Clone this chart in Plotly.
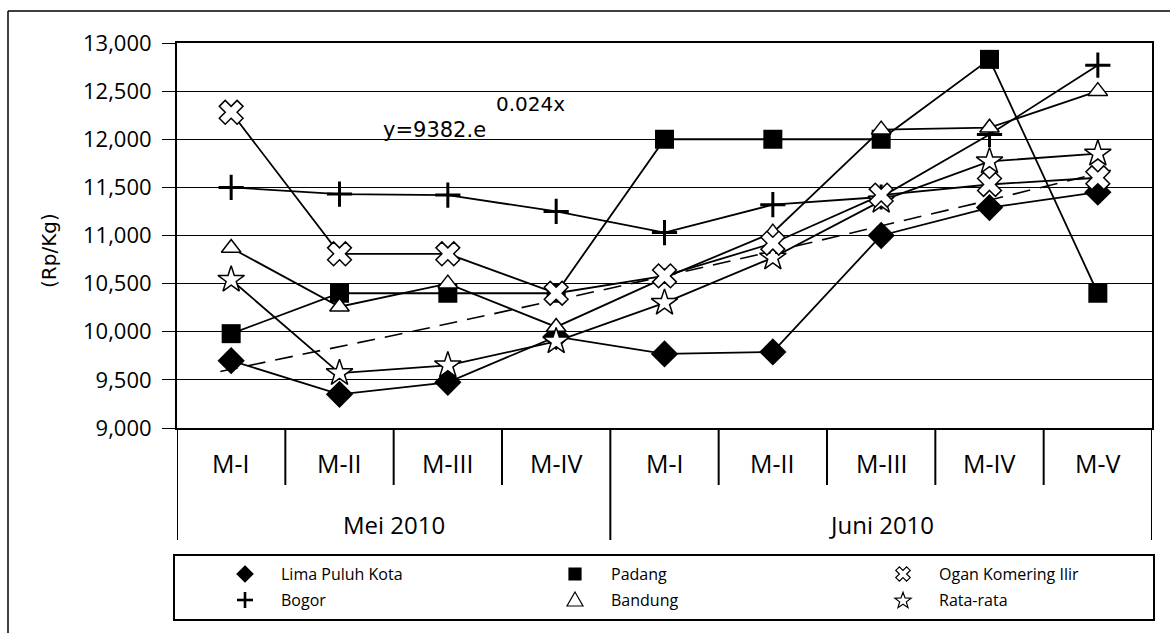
import numpy as np
import plotly.graph_objects as go

# ---- data -------------------------------------------------------------
weeks = ["M-I", "M-II", "M-III", "M-IV", "M-I", "M-II", "M-III", "M-IV", "M-V"]
months = ["Mei 2010", "Juni 2010"]
weeks_per_month = [4, 5]

lima_puluh_kota = [9700, 9350, 9475, 9950, 9770, 9790, 11000, 11290, 11450]
padang = [9980, 10400, 10400, 10400, 12000, 12000, 12000, 12830, 10400]
ogan_komering_ilir = [12280, 10810, 10810, 10400, 10580, 10920, 11420, 11530, 11600]
bogor = [11500, 11430, 11420, 11250, 11030, 11320, 11400, 12050, 12770]
bandung = [10870, 10260, 10500, 10050, 10560, 11030, 12100, 12120, 12500]
rata_rata = [10540, 9570, 9650, 9900, 10300, 10770, 11360, 11770, 11850]

# exponential trend of the average: y = 9382 . e^(0.024x)
trend_a = 9382
trend_b = 0.024

y_ticks = list(range(9000, 13001, 500))

# ---- geometry (pixels of the 1170x633 canvas) --------------------------
W, H = 1170, 633
PL, PR, PT, PB = 177, 1152, 43, 428          # plot area edges
FONT = "Open Sans"
FONT_WIDE = "DejaVu Sans"


def px(x):
    """canvas pixel x -> paper x"""
    return (x - PL) / (PR - PL)


def py(y):
    """canvas pixel y -> paper y"""
    return (PB - y) / (PB - PT)


def poly_path(points, cx, cy, close=True):
    """SVG path in paper units for a polygon given in pixel offsets"""
    parts = []
    for i, (dx, dy) in enumerate(points):
        parts.append(("M" if i == 0 else "L") + f"{px(cx + dx):.5f},{py(cy + dy):.5f}")
    return " ".join(parts) + (" Z" if close else "")


x_pos = list(range(1, len(weeks) + 1))

fig = go.Figure()

# trend line (dashed)
tx = np.linspace(0.9, 9.12, 60)
fig.add_trace(go.Scatter(
    x=tx.tolist(), y=(trend_a * np.exp(trend_b * tx)).tolist(), mode="lines",
    line=dict(color="black", width=1.6, dash="18px,10px"),
    hoverinfo="skip", showlegend=False))

series = [
    ("Padang", padang, dict(symbol="square", size=19, color="black")),
    ("Bogor", bogor, dict(symbol="cross-thin", size=18, color="black",
                          line=dict(color="black", width=3))),
    ("Lima Puluh Kota", lima_puluh_kota, dict(symbol="diamond", size=21, color="black")),
    ("Bandung", bandung, dict(symbol="triangle-up", size=17, color="white",
                              line=dict(color="black", width=1.5))),
    ("Rata-rata", rata_rata, dict(symbol="star", size=20, color="white",
                                  line=dict(color="black", width=1.5))),
    ("Ogan Komering Ilir", ogan_komering_ilir, dict(symbol="x", size=21, color="white",
                                                    line=dict(color="black", width=1.5))),
]
for name, vals, mk in series:
    fig.add_trace(go.Scatter(
        x=x_pos, y=vals, mode="lines+markers", name=name,
        line=dict(color="black", width=1.8), marker=mk,
        cliponaxis=False, showlegend=False))

# ---- legend: symbol outlines as paper-space paths ----------------------
r = 3.6
x_shape = [(0, r), (r, 2 * r), (2 * r, r), (r, 0), (2 * r, -r), (r, -2 * r),
           (0, -r), (-r, -2 * r), (-2 * r, -r), (-r, 0), (-2 * r, r), (-r, 2 * r)]
star_shape = []
for k in range(10):
    ang = -np.pi / 2 + k * np.pi / 5
    rad = 8.5 if k % 2 == 0 else 3.5
    star_shape.append((rad * np.cos(ang), rad * np.sin(ang) + 0.8))

symbol_specs = {
    "diamond": dict(pts=[(0, -8), (8, 0), (0, 8), (-8, 0)], fill="black"),
    "square": dict(pts=[(-6, -6), (6, -6), (6, 6), (-6, 6)], fill="black"),
    "triangle": dict(pts=[(0, -8), (8, 6), (-8, 6)], fill="white"),
    "x": dict(pts=x_shape, fill="white"),
    "star": dict(pts=star_shape, fill="white"),
}

legend_rows = [
    [("Lima Puluh Kota", "diamond"), ("Padang", "square"), ("Ogan Komering Ilir", "x")],
    [("Bogor", "plus"), ("Bandung", "triangle"), ("Rata-rata", "star")],
]
col_x = [245, 575, 903]
row_y = [574, 600]
annotations = []
shapes = []
for ri, row in enumerate(legend_rows):
    for ci, (label, sym) in enumerate(row):
        cx, cy = col_x[ci], row_y[ri]
        if sym == "plus":
            for (ax0, ay0, ax1, ay1) in [(-8, 0, 8, 0), (0, -8, 0, 8)]:
                shapes.append(dict(type="line", xref="paper", yref="paper",
                                   x0=px(cx + ax0), y0=py(cy + ay0),
                                   x1=px(cx + ax1), y1=py(cy + ay1),
                                   line=dict(color="black", width=2.6)))
        else:
            spec = symbol_specs[sym]
            shapes.append(dict(type="path", xref="paper", yref="paper",
                               path=poly_path(spec["pts"], cx, cy),
                               fillcolor=spec["fill"],
                               line=dict(color="black", width=1.2)))
        annotations.append(dict(
            x=px(cx + 34), y=py(cy), xref="paper", yref="paper",
            text=label, showarrow=False, xanchor="left", yanchor="middle",
            font=dict(family=FONT, size=16, color="black")))

# category labels on the first level of the x axis
for i, w in enumerate(weeks):
    annotations.append(dict(
        x=x_pos[i], y=py(463), xref="x", yref="paper", text=w, showarrow=False,
        xanchor="center", yanchor="middle",
        font=dict(family=FONT, size=25, color="black")))

# month labels on the second level
start = 0.5
for m, n in zip(months, weeks_per_month):
    end = start + n
    annotations.append(dict(
        x=(start + end) / 2, y=py(524), xref="x", yref="paper", text=m,
        showarrow=False, xanchor="center", yanchor="middle",
        font=dict(family=FONT, size=24, color="black")))
    start = end

# dividers between the category cells
month_edges = list(np.cumsum([0] + weeks_per_month) + 0.5)
for b in np.arange(1.5, len(weeks), 1.0):
    if b in month_edges:
        continue
    shapes.append(dict(type="line", xref="x", yref="paper", x0=b, x1=b,
                       y0=0, y1=py(485), line=dict(color="black", width=2)))
for b in month_edges:
    shapes.append(dict(type="line", xref="x", yref="paper", x0=b, x1=b,
                       y0=0, y1=py(540), line=dict(color="black", width=2)))

# legend frame
shapes.append(dict(type="rect", xref="paper", yref="paper",
                   x0=px(174), x1=px(1154), y0=py(555), y1=py(620),
                   line=dict(color="black", width=2), fillcolor="rgba(0,0,0,0)"))
# outer chart frame (left and top edges)
shapes.append(dict(type="line", xref="paper", yref="paper", x0=px(8), x1=px(8),
                   y0=py(11), y1=py(H + 5), line=dict(color="black", width=1.5)))
shapes.append(dict(type="line", xref="paper", yref="paper", x0=px(8), x1=px(W + 5),
                   y0=py(11), y1=py(11), line=dict(color="black", width=1.5)))

# trend equation
annotations.append(dict(x=px(381), y=py(130), xref="paper", yref="paper",
                        text=f"y={trend_a}.e", showarrow=False,
                        xanchor="left", yanchor="middle",
                        font=dict(family=FONT_WIDE, size=21, color="black")))
annotations.append(dict(x=px(494), y=py(104), xref="paper", yref="paper",
                        text=f"{trend_b}x", showarrow=False,
                        xanchor="left", yanchor="middle",
                        font=dict(family=FONT_WIDE, size=20, color="black")))

# y axis title
annotations.append(dict(x=px(49), y=py(251), xref="paper", yref="paper",
                        text="(Rp/Kg)", showarrow=False, textangle=-90,
                        xanchor="center", yanchor="middle",
                        font=dict(family=FONT_WIDE, size=20, color="black")))

fig.update_layout(
    width=W, height=H,
    margin=dict(l=PL, r=W - PR, t=PT, b=H - PB, autoexpand=False),
    paper_bgcolor="white", plot_bgcolor="white",
    showlegend=False,
    xaxis=dict(range=[0.5, 9.5], showgrid=False,
               zeroline=False, showticklabels=False, ticks="",
               showline=True, linecolor="black", linewidth=2, mirror=True),
    yaxis=dict(range=[9000, 13000],
               tickvals=y_ticks, tickformat=",", showgrid=True,
               gridcolor="black", gridwidth=1, zeroline=False,
               ticks="outside", ticklen=13, tickwidth=1, tickcolor="black",
               showline=True, linecolor="black", linewidth=2, mirror=True,
               ticklabelstandoff=6,
               tickfont=dict(family=FONT, size=22, color="black")),
    shapes=shapes,
    annotations=annotations,
)

fig.write_html("out.html")
